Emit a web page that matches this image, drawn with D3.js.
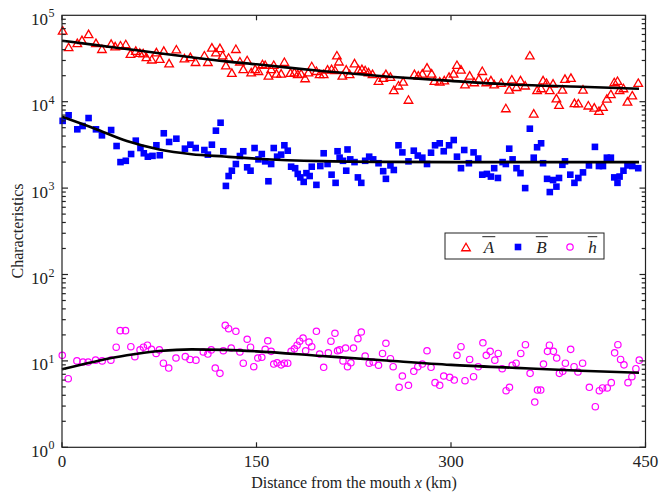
<!DOCTYPE html>
<html><head><meta charset="utf-8">
<script src="https://cdn.jsdelivr.net/npm/d3@7"></script>
<style>body{margin:0;background:#fff}svg{display:block}</style>
</head><body>
<svg id="c" width="661" height="496"></svg>
<script>
// ---- data (distance in km, characteristic values) ----
const distA=[0.5,5.1,11.8,15.4,20.5,26.2,30.8,37.9,41,45.1,49.2,52.8,56.9,60,62.6,65.1,69.2,72.8,75.4,78.5,82.6,88.2,94.4,99,103,109.8,112.5,115.6,118.7,121.8,123.9,126.4,128.5,131,134.1,137.2,139.8,142.8,145.9,149,151.5,154.6,156.7,159.2,161.3,163.3,165.4,169,171.5,176.2,179.2,181.8,184.4,187.5,190,192.6,196.2,198.7,201.8,204.8,207.9,210.5,212,213.6,216.2,219.2,221.8,225.6,228.7,231.3,233.8,236.4,239.5,244.1,247.7,249.8,253.3,255.9,259.5,263.1,267.2,271.8,274.8,277.9,281.5,285.1,287.2,291.3,294.8,298.5,302,304.6,307.7,310.8,314.4,317.9,321.5,324.1,327.2,330.8,333.3,338.7,342.3,344.9,346.9,350.5,353.6,357.2,360.8,363.8,366.4,369.5,371,373.6,376.2,378.7,381.3,383.3,385.9,387.9,392.5,395.2,398.2,401.8,405.9,410.5,414.1,417.2,420.2,423.3,425.9,428.4,430,433,436.1,439.8,444.4];
const charA=[67000,43000,48000,52000,61000,48000,41000,47000,44000,45000,46500,36000,39000,37000,36500,33000,31000,37500,31500,39000,28000,40500,32000,33000,29000,34500,29000,42500,37500,42000,34500,26500,32500,21700,41000,29400,24000,30400,22000,24000,22800,27300,26800,20200,24000,26800,21300,21300,29000,21700,22000,21000,21300,18800,22000,25900,22800,21000,21000,23700,24000,23300,34500,29400,20200,23700,21000,28000,23700,24000,23300,22000,21000,17500,19000,21000,19500,13700,15500,17200,10600,21000,20200,21300,25000,21300,17500,17200,17800,19500,21300,26800,23700,16000,20200,16900,18500,22800,16900,17800,16000,16600,8450,13900,18200,14900,17800,15500,34500,7340,13700,14400,17800,16600,13700,16300,11000,9230,13900,18500,19000,9700,9600,13900,9100,8600,7870,8750,10900,12300,16900,17500,13700,14400,10100,11900,16600];

const distB=[0.5,5.1,11.8,15.9,20.5,26.2,30.8,37.9,42.1,45.1,49.2,53.3,56.9,60.5,63.1,66.2,69.8,72.8,75.4,78.5,82.6,88.2,94.8,99,103.1,109.8,112.5,115.6,118.7,122.3,124.4,126.4,128.5,131,134.1,137.2,139.8,142.8,145.4,148.5,151.5,154.1,156.7,159.2,161.3,163.3,165.9,169,171.5,174.1,176.7,179.8,181.8,183.8,186.4,188.5,191,192.6,196.2,199.2,201.8,204.8,207.9,211,212.5,214.1,216.7,219.2,220.2,222.3,225.6,228.2,230.8,233.8,236.9,240,244.1,247.7,249.8,253.3,255.9,259.5,262.5,267.2,271.3,274.4,277.9,281.5,284.6,287.7,291.3,294.4,298.5,302.1,304.6,307.7,310.2,313.8,317.4,321,324.1,327.7,330.8,333.3,336.2,339.8,342.3,344.9,347.5,350.5,353.6,357.2,360.8,363.8,366.4,369.5,371,374.1,376.2,378.7,381.3,383.3,385.9,387.9,392,395.2,398.2,401.8,406.4,411,414.1,417.2,420.2,423.3,425.9,428.4,430,433,436.1,439.8,444.4];
const charB=[6000,6960,4790,5230,6470,4790,4080,4700,3070,2000,2070,2480,3540,2910,2530,2310,2360,3130,2400,4310,3420,3730,2860,3180,2910,2760,2440,3180,4620,5710,2670,1060,1380,1590,1900,2350,2670,1740,1590,2910,2150,2480,2040,1200,1900,2910,2310,2440,3130,2710,1770,1700,1460,1330,1180,1490,1380,1770,1090,1800,2530,1900,1430,1150,2670,2250,2070,1590,2800,2150,2000,1330,1150,2070,2310,2150,1940,1570,1280,1830,1620,3130,2590,2040,2710,2380,2250,1900,2570,3130,3300,2670,3130,3600,2310,1700,2760,1940,2590,2200,1430,1460,1360,1700,1310,2000,1900,2860,2150,1700,1490,1000,4870,2250,2970,3300,1940,1280,900,1240,1040,1310,1860,2040,1430,1150,1310,1520,1830,3000,1800,1800,2250,2250,1330,1150,1360,1590,1830,1800,1700];

const distH=[0.2,4.8,11.5,16.2,20.2,25.9,31,37.7,41.8,44.9,49,53.1,56.2,60.2,62.8,65.9,69,72.6,75.1,78.2,82.3,87.9,95.1,98.7,103.3,109,112.5,115.1,118.2,121.8,124.4,125.9,128.5,130.5,134.1,137.2,139.8,142.8,145.4,147.9,151,154.1,156.7,158.7,161.3,163.3,165.9,169,171.5,174.1,176.7,179.2,181.3,183.3,185.9,187.9,190.5,192.6,196.2,198.7,201.8,205.4,207.4,210.5,212.5,214.1,216.7,218.7,220.2,222.8,224.8,228.2,230.8,233.8,236.9,240,244.1,247.2,249.8,253.3,255.4,260,262.5,267.2,271.3,274.4,277.9,281.5,284.6,287.7,291.3,294.4,299,302.5,304.6,307.7,310.8,314.4,317.4,321,324.6,327.2,330.2,333.8,336.4,339.5,342.5,345.1,347.2,350.2,353.8,357.4,361,364.6,366.7,369.2,371.3,374.4,375.9,379,381.5,383.6,386.2,388.2,392.3,394.9,397.9,401.5,406.7,411.3,414.4,416.9,420.5,423.6,426.2,428.7,430.8,433.4,436.5,439.5,442.6,445.2];
const charH=[11.6,6.22,10.0,9.7,9.7,10.2,10.0,10.2,14.4,22.4,22.4,14.6,11.2,13.4,14.4,15.2,13.6,12.2,13.4,9.4,8.27,10.8,11.2,10.4,10.2,12.7,12.0,13.4,8.27,7.18,13.1,25.8,23.6,14.1,22.0,12.7,9.4,17.8,14.4,8.57,10.8,11.0,13.6,17.1,12.9,9.2,9.5,9.0,9.4,9.4,12.9,13.8,15.2,16.9,18.4,13.1,16.5,14.6,22.0,12.0,8.43,12.4,16.9,20.9,13.1,13.4,10.0,14.1,8.57,9.5,14.1,18.1,21.6,11.4,9.4,9.7,8.9,12.2,16.0,10.6,8.57,4.95,6.69,5.22,7.58,8.57,9.2,13.1,8.43,5.6,5.22,6.69,6.46,6.0,11.6,14.6,5.9,10.4,6.56,8.57,16.2,11.6,12.9,10.2,12.2,8.12,4.52,4.95,8.9,9.4,12.2,15.4,7.18,3.34,4.6,4.6,9.2,12.9,15.2,12.9,10.8,7.18,7.58,9.4,13.6,8.57,7.44,9.4,4.95,2.95,4.52,4.86,4.86,5.6,12.4,15.4,10.4,9.0,5.6,6.56,8.12,10.2];

// fitted curves
const fitDist=[0,25,50,75,100,125,150,200,250,300,350,400,445];
const fitA=[50800,45500,40700,36400,32700,29500,27100,22700,19600,17400,15700,14900,14100];
const fitB=[6700,4900,3500,2800,2470,2320,2190,2050,2010,2000,2000,2000,2000];
const fitH=[8.0,9.8,11.6,13.0,13.6,13.4,12.9,11.4,10.1,9.0,8.3,7.7,7.3];

const xTicks=[0,150,300,450];
const yTicks=[1,10,100,1000,10000,100000];
const legendLabels=["A","B","h"];

// ---- drawing ----
const svg=d3.select("#c");
const L=62,R=645.5,T=15.3,B=447.3;
const x=d3.scaleLinear().domain([0,450]).range([L,R]);
const y=d3.scaleLog().domain([1,1e5]).range([B,T]);
const font="'Liberation Serif','Times New Roman',serif";

// markers
const triPath=(s)=>{const h=s*0.87;return `M0,${-h/2}L${s/2},${h/2}L${-s/2},${h/2}Z`;};
function drawTri(g,px,py){g.append("path").attr("d",triPath(8.6)).attr("transform",`translate(${px},${py})`)
  .attr("fill","none").attr("stroke","#ff0000").attr("stroke-width",1.3);}
function drawSq(g,px,py){g.append("rect").attr("x",px-3.3).attr("y",py-3.3).attr("width",6.6).attr("height",6.6).attr("fill","#0000ff");}
function drawCirc(g,px,py){g.append("circle").attr("cx",px).attr("cy",py).attr("r",3.2).attr("fill","none").attr("stroke","#ff00ff").attr("stroke-width",1.2);}

const gp=svg.append("g");
distA.forEach((d,i)=>drawTri(gp,x(d),y(charA[i])));
distB.forEach((d,i)=>drawSq(gp,x(d),y(charB[i])));
distH.forEach((d,i)=>drawCirc(gp,x(d),y(charH[i])));

const line=d3.line().x(d=>x(d[0])).y(d=>y(d[1])).curve(d3.curveMonotoneX);
[fitA,fitB,fitH].forEach(f=>{
  svg.append("path").attr("d",line(fitDist.map((d,i)=>[d,f[i]])))
    .attr("fill","none").attr("stroke","#000").attr("stroke-width",2.6);
});

// axes frame & ticks
const ax=svg.append("g").attr("stroke","#222").attr("stroke-width",1.2);
ax.append("rect").attr("x",L).attr("y",T).attr("width",R-L).attr("height",B-T).attr("fill","none");
// x ticks (bottom & top, inward)
xTicks.forEach(t=>{
  ax.append("line").attr("x1",x(t)).attr("x2",x(t)).attr("y1",B).attr("y2",B-5);
  ax.append("line").attr("x1",x(t)).attr("x2",x(t)).attr("y1",T).attr("y2",T+5);
});
// y ticks (left & right, inward), minor ticks
for(let e=0;e<5;e++){
  for(let m=1;m<10;m++){
    const v=m*Math.pow(10,e), len=(m===1)?6:3.8;
    ax.append("line").attr("x1",L).attr("x2",L+len).attr("y1",y(v)).attr("y2",y(v));
    ax.append("line").attr("x1",R).attr("x2",R-len).attr("y1",y(v)).attr("y2",y(v));
  }
}
// tick labels
const tl=svg.append("g").attr("font-family",font).attr("fill","#222");
xTicks.forEach(t=>{
  tl.append("text").attr("x",x(t)).attr("y",B+20).attr("text-anchor","middle").attr("font-size",17).text(t);
});
yTicks.forEach(v=>{
  const e=Math.round(Math.log10(v));
  tl.append("text").attr("x",48).attr("y",y(v)+9.5).attr("text-anchor","end").attr("font-size",17).text("10");
  tl.append("text").attr("x",48.5).attr("y",y(v)+2).attr("text-anchor","start").attr("font-size",12).text(e);
});
// axis titles
tl.append("text").attr("transform","translate(23,231) rotate(-90)").attr("text-anchor","middle").attr("font-size",16).text("Characteristics");
const xt=tl.append("text").attr("x",354).attr("y",488).attr("text-anchor","middle").attr("font-size",16);
xt.append("tspan").text("Distance from the mouth ");
xt.append("tspan").attr("font-style","italic").text("x");
xt.append("tspan").text(" (km)");

// legend
const lg=svg.append("g");
lg.append("rect").attr("x",445).attr("y",233).attr("width",159).attr("height",26).attr("fill","#fff").attr("stroke","#222").attr("stroke-width",1);
drawTri(lg,466,247); drawSq(lg,518,247); drawCirc(lg,570,247);
[[489,"A"],[541.5,"B"],[592.5,"h"]].forEach(([cx,t],i)=>{
  const tx=lg.append("text").attr("x",cx).attr("y",252.5).attr("text-anchor","middle")
    .attr("font-family",font).attr("font-style","italic").attr("font-size",17).attr("fill","#222").text(legendLabels[i]);
  const bb=tx.node().getBBox();
  lg.append("line").attr("x1",bb.x-0.5).attr("x2",bb.x+bb.width+0.5).attr("y1",236.7).attr("y2",236.7).attr("stroke","#222").attr("stroke-width",1);
});
</script>
</body></html>
